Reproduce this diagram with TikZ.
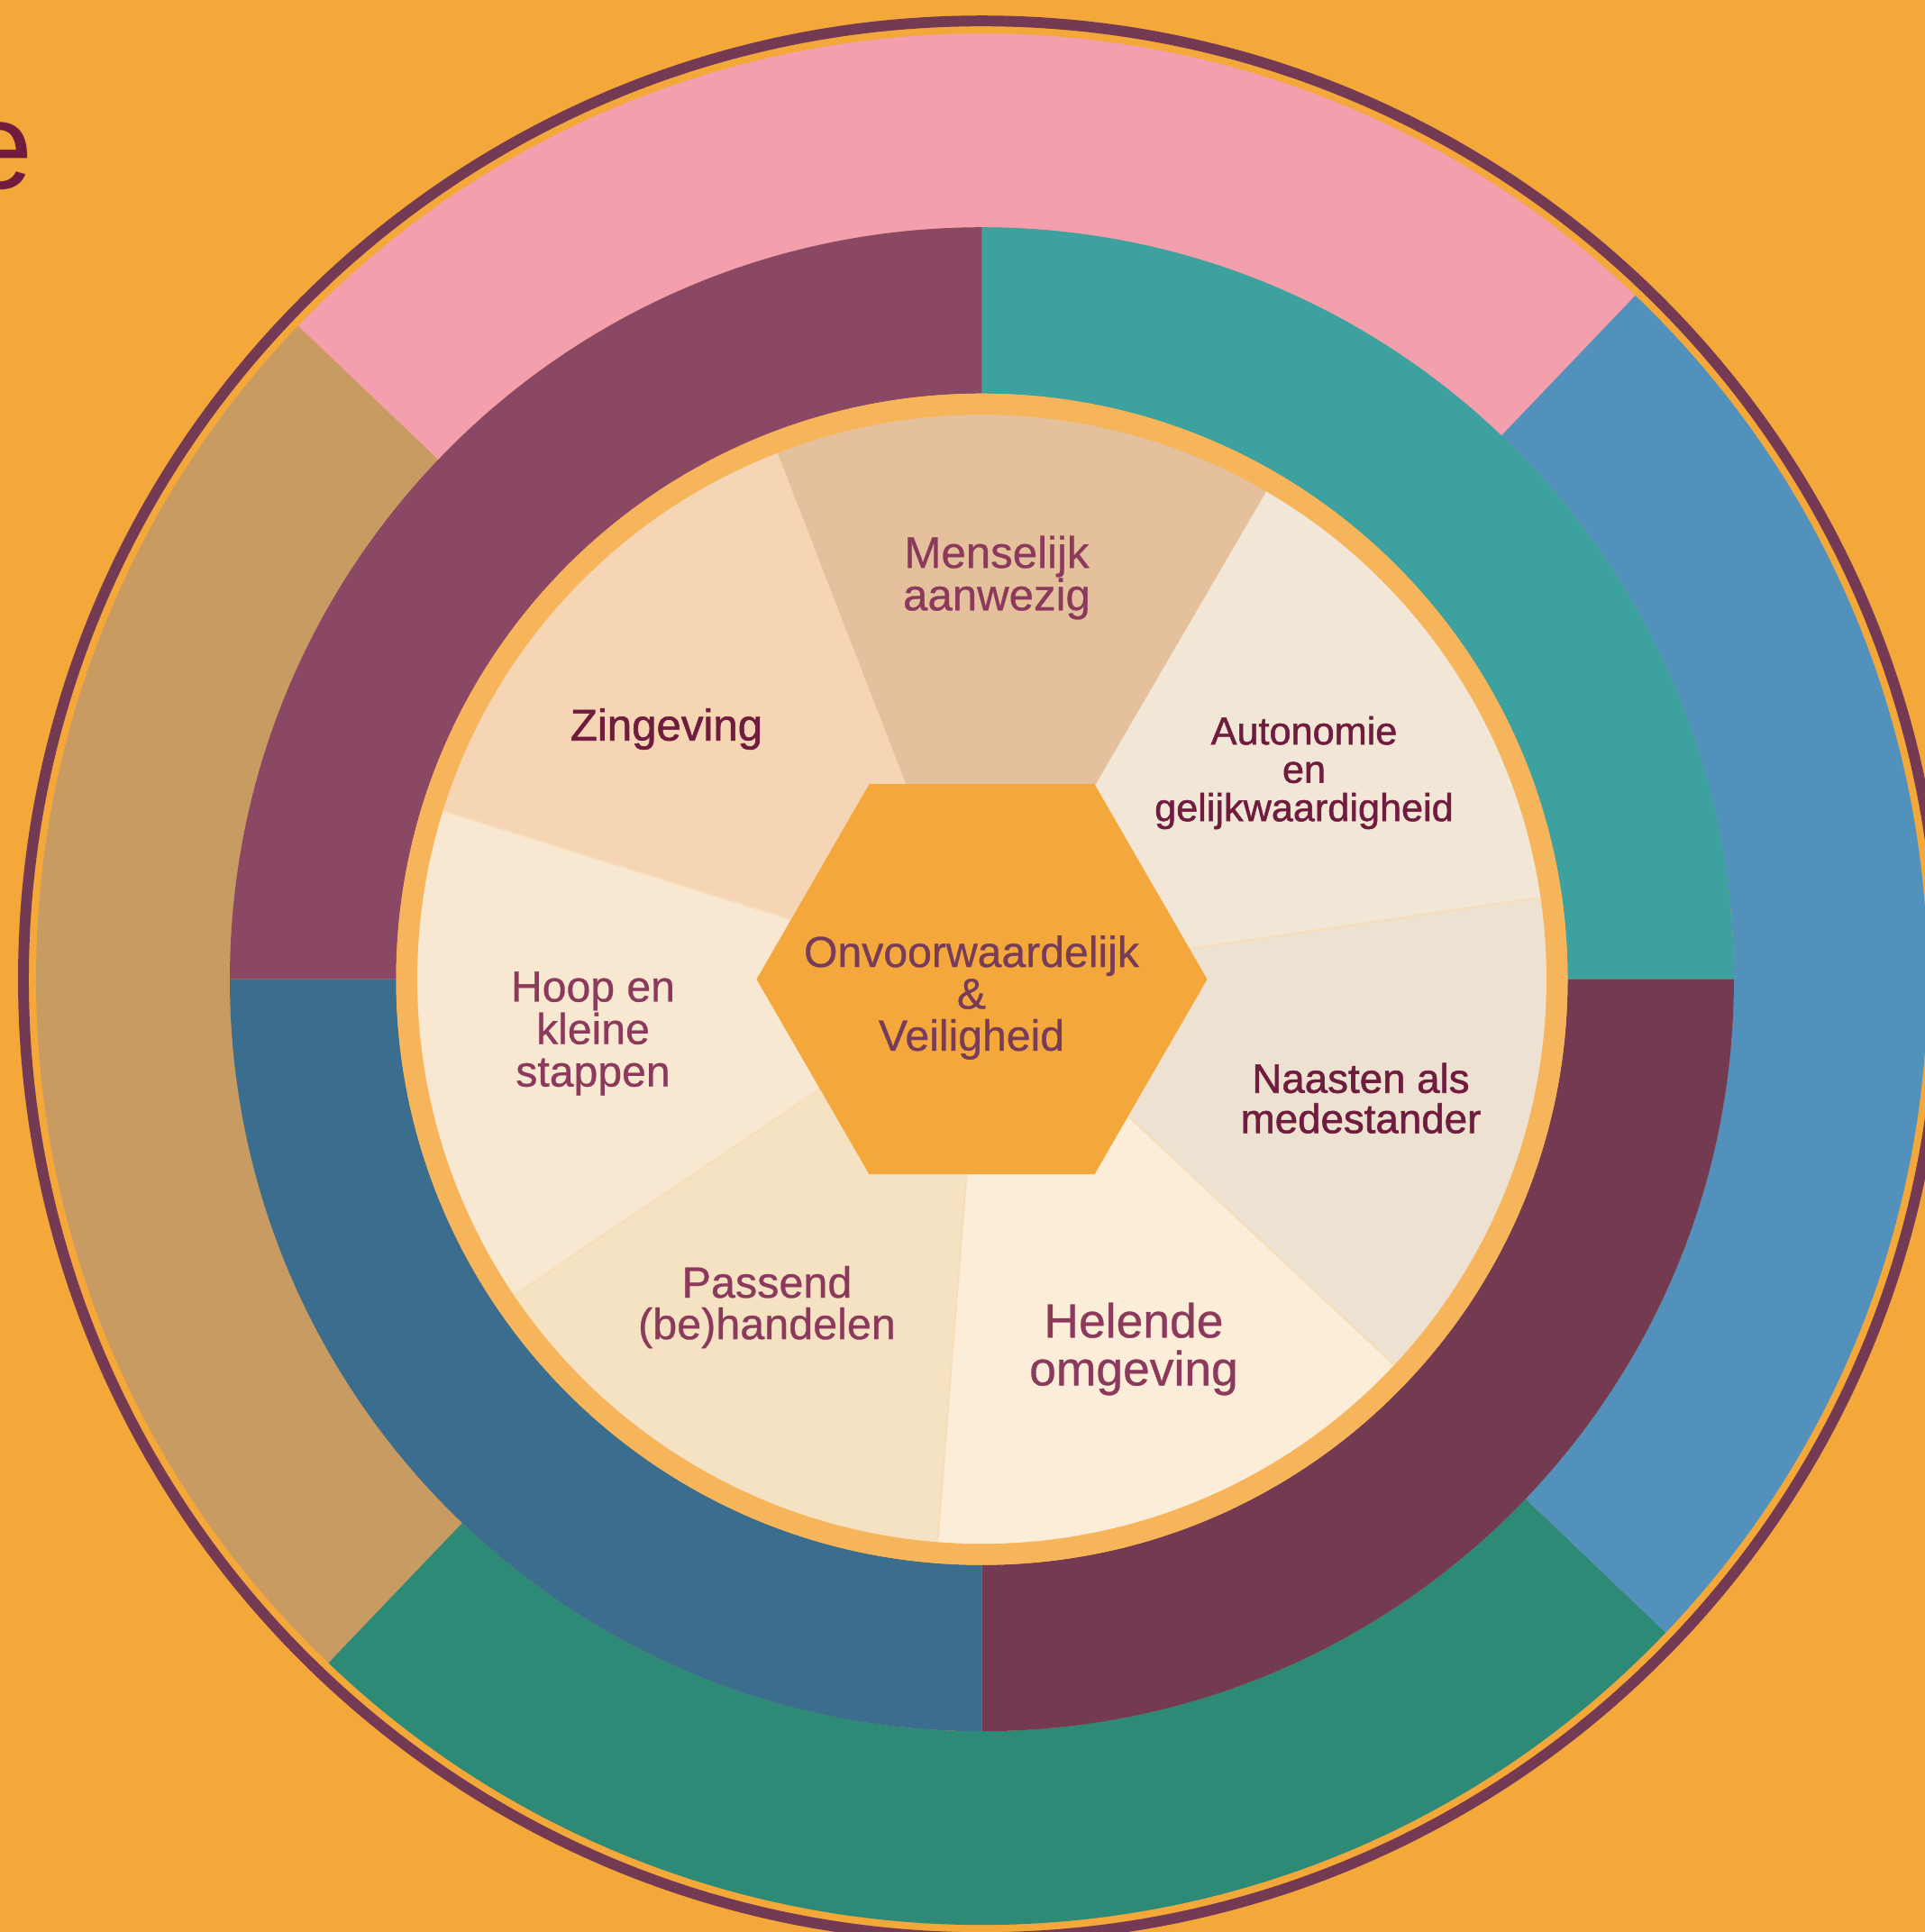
\documentclass[tikz,border=0pt]{standalone}
\usepackage{fontspec}
\setmainfont{Liberation Sans}
\newfontfamily\darkfont{Liberation Sans}[FakeBold=1.2]
\newfontfamily\midfont{Liberation Sans}[FakeBold=0.6]
\definecolor{bgorange}{HTML}{F4A83A}
\definecolor{rimpurple}{HTML}{743A53}
\definecolor{ringorange}{HTML}{F7B55B}
\definecolor{outpink}{HTML}{F39FAD}
\definecolor{outtan}{HTML}{C89B63}
\definecolor{outblue}{HTML}{5291BC}
\definecolor{outgreen}{HTML}{2D8A77}
\definecolor{inmaroon}{HTML}{8B4864}
\definecolor{inteal}{HTML}{3CA19F}
\definecolor{inplum}{HTML}{733A51}
\definecolor{inblue}{HTML}{3B6E8E}
\definecolor{pmens}{HTML}{E4C19C}
\definecolor{pzing}{HTML}{F5D5B4}
\definecolor{phoop}{HTML}{F8E8D1}
\definecolor{ppass}{HTML}{F4E2C2}
\definecolor{pheel}{HTML}{FBEDD7}
\definecolor{pnaas}{HTML}{EDE2D1}
\definecolor{pauto}{HTML}{F2E7D6}
\definecolor{hexorange}{HTML}{F4A83C}
\definecolor{sepline}{HTML}{F8DDBB}
\definecolor{txtmid}{HTML}{8B3A5C}
\definecolor{txtdark}{HTML}{701C3E}
\definecolor{txtcore}{HTML}{763C5A}
\begin{document}
\begin{tikzpicture}[
    midlabel/.style={align=center, text=txtmid},
    darklabel/.style={align=center, text=txtdark}
  ]
  \tikzstyle{every node}+=[inner sep=0pt]
  % background and page size
  \fill [bgorange] (0,0) rectangle (21.36,-21.44);
  \useasboundingbox (0,0) rectangle (21.36,-21.44);
  \node [anchor=base east, text=txtdark, font=\fontsize{39}{44}\selectfont] (title) at (0.37,-2.09) {e};
  \coordinate (c) at (10.895,-10.867);
  \begin{scope}[shift={(c)}]
    % outer rim
    \draw [rimpurple, line width=3.4pt] (0,0) circle (10.635);
    % outer ring
    \fill [outpink] (46.3:10.495) arc[start angle=46.3, end angle=136.3, radius=10.495] -- (136.3:8.345) arc[start angle=136.3, end angle=46.3, radius=8.345] -- cycle;
    \fill [outtan] (136.3:10.495) arc[start angle=136.3, end angle=226.3, radius=10.495] -- (226.3:8.345) arc[start angle=226.3, end angle=136.3, radius=8.345] -- cycle;
    \fill [outgreen] (226.3:10.495) arc[start angle=226.3, end angle=316.3, radius=10.495] -- (316.3:8.345) arc[start angle=316.3, end angle=226.3, radius=8.345] -- cycle;
    \fill [outblue] (316.3:10.495) arc[start angle=316.3, end angle=406.3, radius=10.495] -- (46.3:8.345) arc[start angle=406.3, end angle=316.3, radius=8.345] -- cycle;
    % inner ring
    \fill [inteal] (0:8.345) arc[start angle=0, end angle=90, radius=8.345] -- (90:6.5) arc[start angle=90, end angle=0, radius=6.5] -- cycle;
    \fill [inmaroon] (90:8.345) arc[start angle=90, end angle=180, radius=8.345] -- (180:6.5) arc[start angle=180, end angle=90, radius=6.5] -- cycle;
    \fill [inblue] (180:8.345) arc[start angle=180, end angle=270, radius=8.345] -- (270:6.5) arc[start angle=270, end angle=180, radius=6.5] -- cycle;
    \fill [inplum] (270:8.345) arc[start angle=270, end angle=360, radius=8.345] -- (0:6.5) arc[start angle=360, end angle=270, radius=6.5] -- cycle;
    % orange band
    \fill [ringorange] (0,0) circle (6.5);
    % pie
    \fill [pzing] (0,0) -- (111.2:6.265) arc[start angle=111.2, end angle=162.63, radius=6.265] -- cycle;
    \fill [phoop] (0,0) -- (162.63:6.265) arc[start angle=162.63, end angle=214.06, radius=6.265] -- cycle;
    \fill [ppass] (0,0) -- (214.06:6.265) arc[start angle=214.06, end angle=265.49, radius=6.265] -- cycle;
    \fill [pheel] (0,0) -- (265.49:6.265) arc[start angle=265.49, end angle=316.91, radius=6.265] -- cycle;
    \fill [pnaas] (0,0) -- (316.91:6.265) arc[start angle=316.91, end angle=368.34, radius=6.265] -- cycle;
    \fill [pauto] (0,0) -- (8.34:6.265) arc[start angle=8.34, end angle=59.77, radius=6.265] -- cycle;
    \fill [pmens] (0,0) -- (59.77:6.265) arc[start angle=59.77, end angle=111.2, radius=6.265] -- cycle;
    \draw [sepline, line width=0.6pt] (0,0) -- (162.63:6.265);
    \draw [sepline, line width=0.6pt] (0,0) -- (214.06:6.265);
    \draw [sepline, line width=0.6pt] (0,0) -- (265.49:6.265);
    \draw [sepline, line width=0.6pt] (0,0) -- (316.91:6.265);
    \draw [sepline, line width=0.6pt] (0,0) -- (8.34:6.265);
    % hexagon
    \fill [hexorange] (0:2.5) -- (60:2.5) -- (120:2.5) -- (180:2.5) -- (240:2.5) -- (300:2.5) -- cycle;
  \end{scope}
  % labels
  \node [midlabel, font=\midfont\fontsize{14}{13.4}\selectfont] (mens) at (11.06,-6.41) {Menselijk\\aanwezig};
  \node [darklabel, anchor=base, font=\darkfont\fontsize{14}{13.4}\selectfont] (zing) at (7.395,-8.217) {Zingeving};
  \node [midlabel, font=\midfont\fontsize{13.7}{13.4}\selectfont] (hoop) at (6.58,-11.47) {Hoop en\\kleine\\stappen};
  \node [midlabel, font=\midfont\fontsize{13.8}{13.1}\selectfont] (pass) at (8.51,-14.505) {Passend\\(be)handelen};
  \node [midlabel, font=\midfont\fontsize{15.2}{15.1}\selectfont] (heel) at (12.58,-14.97) {Helende\\omgeving};
  \node [darklabel, font=\darkfont\fontsize{13}{12.7}\selectfont] (naas) at (15.10,-12.187) {Naasten als\\medestander};
  \node [darklabel, font=\darkfont\fontsize{12.3}{12.1}\selectfont] (auto) at (14.47,-8.575) {Autonomie\\en\\gelijkwaardigheid};
  \node [align=center, text=txtcore, font=\midfont\fontsize{13.7}{13.2}\selectfont] (core) at (10.78,-11.07) {Onvoorwaardelijk\\\&\\Veiligheid};
\end{tikzpicture}
\end{document}
